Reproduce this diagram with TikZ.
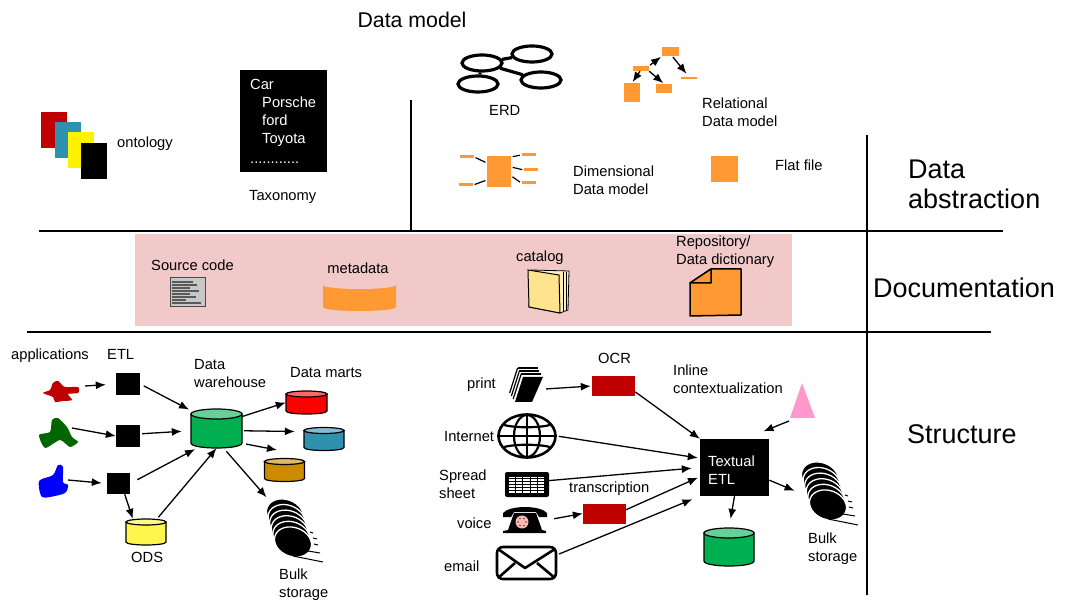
\documentclass[tikz,border=0pt]{standalone}
\usepackage{fontspec}
\setmainfont{Liberation Sans}
\usetikzlibrary{arrows.meta,calc,shapes.geometric}
\definecolor{orng}{HTML}{FF9933}
\definecolor{band}{HTML}{F1C9C9}
\definecolor{dred}{HTML}{C00000}
\definecolor{teal}{HTML}{2E92AE}
\definecolor{wgreen}{HTML}{00B050}
\definecolor{brwn}{HTML}{CC8A00}
\definecolor{pink}{HTML}{FF99CC}
\definecolor{page}{HTML}{FFE38F}
\tikzset{
  arr/.style={-{Latex[length=10pt,width=8pt]},line width=1.3pt},
  tie/.style={line width=1.2pt,shorten <=1.5pt,shorten >=1.5pt},
  rulel/.style={line width=1.5pt},
  lbl/.style={font=\fontsize{14.7}{18}\selectfont,align=left,anchor=west,inner sep=0pt},
  bigl/.style={font=\fontsize{27}{30}\selectfont,align=left,anchor=west,inner sep=0pt},
  etlbox/.style={fill=black,inner sep=0pt,minimum width=24pt,minimum height=22pt},
  redbox/.style={fill=dred,inner sep=0pt,minimum width=43pt,minimum height=20pt},
  orbox/.style={fill=orng,inner sep=0pt},
  card/.style={inner sep=0pt,minimum width=26pt,minimum height=36pt},
  erdn/.style={draw,ellipse,line width=3.2pt,inner sep=0pt,minimum width=40pt,minimum height=16pt},
  hold/.style={inner sep=0pt},
  pics/bulkdisc/.style={code={
    \foreach \i in {5,4,3,2,1,0}{
      \draw[fill=black,draw=white,line width=1.3pt,shift={(-1.6*\i,-5.6*\i)},rotate=-20] (0,0) ellipse (19 and 14.5);
    }
    \draw[line width=1pt] (17,-10)--(20,-9) (20,-4)--(24,-3) (21,2)--(25,3) (15,9)--(27,11) (0,14)--(30,20);
  }}
}
\newcommand{\dbcan}[9][draw=black,line width=1.2pt]{
  \node[hold,minimum width=#5pt,minimum height=#6pt] (#2) at (#3,#4) {};
  \draw[#1,fill=#8] ({#3-#5/2},{#4-#6/2+#7}) -- ({#3-#5/2},{#4+#6/2-#7}) .. controls ({#3-#5/2},{#4+#6/2+#7/3}) and ({#3+#5/2},{#4+#6/2+#7/3}) .. ({#3+#5/2},{#4+#6/2-#7}) -- ({#3+#5/2},{#4-#6/2+#7}) -- cycle;
  \draw[#1,fill=#9] (#3,{#4-#6/2+#7}) ellipse ({#5/2} and #7);
}
\begin{document}
\begin{tikzpicture}[x=1pt,y=-1pt]
\useasboundingbox (0,0) rectangle (1071,609);
\fill[band] (135,234) rectangle (792,326);
\draw[rulel] (39,231)--(1003,231);
\draw[rulel] (27,332)--(991,332);
\draw[rulel] (411,100)--(411,231);
\draw[rulel] (867,135)--(867,595);
\node[font=\fontsize{21.3}{24}\selectfont,inner sep=0pt] (mtitle) at (412,20) {Data model};
\node[bigl] (tabs) at (908,184) {Data\\[0pt]abstraction};
\node[bigl] (tdoc) at (873,288) {Documentation};
\node[bigl] (tstr) at (907,434) {Structure};
\node[card,fill=dred] (ont0) at (54,130) {};
\node[card,fill=teal] (ont1) at (67.5,140.5) {};
\node[card,fill=yellow] (ont2) at (80.5,150.5) {};
\node[card,fill=black] (ont3) at (93.5,161) {};
\node[lbl] (lont) at (117,144) {ontology};
\node[fill=black,text=white,anchor=north west,inner sep=0pt,minimum width=87pt,minimum height=102pt,text width=67pt,align=left,font=\fontsize{14.7}{18}\selectfont] (tax) at (240,70) {Car\\\hspace*{12pt}Porsche\\\hspace*{12pt}ford\\\hspace*{12pt}Toyota\\[1.5pt]............};
\node[lbl] (ltax) at (249,197) {Taxonomy};
\node[erdn] (erd0) at (482,63) {};
\node[erdn] (erd1) at (532,54) {};
\node[erdn] (erd2) at (541,80) {};
\node[erdn] (erd3) at (478,84) {};
\draw[line width=3.2pt] (erd0)--(erd1);
\draw[line width=3.2pt] (erd0)--(erd2);
\draw[line width=3.2pt] (erd0)--(erd3);
\node[lbl] (lerd) at (489,110) {ERD};
\node[orbox,minimum width=17pt,minimum height=9pt] (rel0) at (670.5,51.5) {};
\node[orbox,minimum width=16pt,minimum height=5pt] (rel1) at (641,68.5) {};
\node[orbox,minimum width=16pt,minimum height=19pt] (rel2) at (632,92.5) {};
\node[orbox,minimum width=16pt,minimum height=9pt] (rel3) at (664,88.5) {};
\node[orbox,minimum width=16pt,minimum height=2pt] (rel4) at (689,78) {};
\draw[arr,shorten <=1pt,shorten >=1pt] (rel1.north east)--(rel0.south west);
\draw[arr,shorten >=1pt] (rel1.-110)--(rel2.north);
\draw[arr,shorten >=1pt] (rel1.south east)--(rel3.north);
\draw[arr,shorten <=1pt,shorten >=4pt] (rel0.-70)--(rel4.north);
\node[lbl] (lrel) at (702,112) {Relational\\Data model};
\node[orbox,minimum width=24pt,minimum height=31pt] (dim0) at (499,171.5) {};
\node[orbox,minimum width=14pt,minimum height=3pt] (dim1) at (467,157) {};
\node[orbox,minimum width=14pt,minimum height=3pt] (dim2) at (466,185) {};
\node[orbox,minimum width=14pt,minimum height=3pt] (dim3) at (528.5,155) {};
\node[orbox,minimum width=14pt,minimum height=3pt] (dim4) at (531,170) {};
\node[orbox,minimum width=14pt,minimum height=3pt] (dim5) at (528.5,183) {};
\draw[tie] (dim1.east)--(dim0.145);
\draw[tie] (dim2.east)--(dim0.215);
\draw[tie] (dim0.50)--(dim3.west);
\draw[tie] (dim0.20)--(dim4.west);
\draw[tie] (dim0.-20)--(dim5.west);
\node[lbl] (ldim) at (573,180) {Dimensional\\Data model};
\node[orbox,minimum width=27pt,minimum height=26pt] (flat) at (724.5,169) {};
\node[lbl] (lflat) at (775,165) {Flat file};
\node[lbl] (lsrc) at (151,265) {Source code};
\node[draw=black!70,line width=1pt,fill=black!22,inner sep=0pt,minimum width=35pt,minimum height=29pt] (src) at (187.5,292.5) {};
\foreach \yy/\xx in {282/193,285/197,288/190,291/199,294/190,297/196,300/186,303/201}{
  \draw[black!65,line width=1.6pt] (172,\yy)--(\xx,\yy);
}
\node[font=\fontsize{14.7}{18}\selectfont,inner sep=0pt] (lmeta) at (358,268) {metadata};
\dbcan[draw=none]{meta}{359.5}{296}{73}{30}{4}{orng}{band}
\node[lbl] (lcat) at (516,258) {catalog};
\fill[page!60!white,draw=black,line width=0.8pt] (531,270)--(569,271)--(568,310)--(560,313)--(529,307)--cycle;
\draw[black,line width=0.6pt] (563,272)--(563,311) (566,272)--(566,310);
\fill[page,draw=black,line width=1pt] (528,270)--(559,275)--(560,313)--(529,307)--cycle;
\node[lbl] (lrepo) at (676,252) {Repository/\\Data dictionary};
\draw[fill=orng,line width=1.5pt,line join=round] (711,269)--(741,269)--(741,315)--(690,316)--(690,283)--cycle;
\draw[fill=orng,line width=1.5pt,line join=round] (690,283)--(711,283)--(711,269)--cycle;
\node[lbl] (lapp) at (11,356) {applications};
\node[lbl] (letl) at (107,354) {ETL};
\fill[dred] plot[smooth cycle] coordinates {(43,393)(50,390)(53,383)(58,381)(65,387)(78,387)(78,393)(68,394)(72,400)(63,401)(55,402)(53,397)};
\fill[black!60!green] plot[smooth cycle,tension=0.4] coordinates {(39,435)(50,432)(52,420)(58,418)(67,427)(72,437)(78,442)(70,447)(60,440)(45,448)};
\fill[blue] plot[smooth cycle,tension=0.5] coordinates {(40,480)(53,475)(58,465)(63,467)(63,482)(68,485)(65,493)(50,497)(42,497)(39,488)};
\coordinate (app0) at (85,386);
\coordinate (app1) at (72,428);
\coordinate (app2) at (68,480);
\node[etlbox] (etl0) at (128,384) {};
\node[etlbox] (etl1) at (128,436) {};
\node[etlbox,minimum width=23pt,minimum height=21pt] (etl2) at (118.5,483.5) {};
\dbcan{dw}{216.5}{428.5}{51}{39}{5}{wgreen}{wgreen!60!white}
\dbcan{ods}{146}{532}{40}{26}{3}{yellow!70!white}{yellow!45!white}
\dbcan{mart0}{306.5}{402.5}{41}{23}{3}{red}{red!60!white}
\dbcan{mart1}{324}{439}{40}{23}{3}{teal}{teal!60!white}
\dbcan{mart2}{284.5}{470}{40}{23}{3}{brwn}{brwn!60!white}
\coordinate (tipm2) at (277,450);
\node[hold,minimum width=40pt,minimum height=55pt] (bulk0) at (288,526.5) {};
\pic at (293,542) {bulkdisc};
\node[lbl] (lods) at (131,557) {ODS};
\node[lbl] (ldw) at (194,374) {Data\\warehouse};
\node[lbl] (lmart) at (290,373) {Data marts};
\node[lbl] (lbulk0) at (279,585) {Bulk\\storage};
\draw[arr,shorten >=10pt] (app0)--(etl0.west);
\draw[arr,shorten <=4pt,shorten >=2pt] (etl0.east)--(dw.145);
\draw[arr] (app1)--(etl1.west);
\draw[arr,shorten <=2pt,shorten >=9pt] (etl1.10)--(dw.185);
\draw[arr,shorten >=5pt] (app2)--(etl2.west);
\draw[arr,shorten <=8pt,shorten >=2pt] (etl2.east)--(dw.225);
\draw[arr] (etl2.-60)--(ods.135);
\draw[arr,shorten <=2pt] (ods.50)--(dw.south);
\draw[arr] (dw.25)--(mart0.west);
\draw[arr,shorten <=2pt,shorten >=9pt] (dw.-5)--(mart1.160);
\draw[arr,shorten <=4pt] (dw.-30)--(tipm2);
\draw[arr,shorten <=4pt,shorten >=2pt] (dw.-70)--(bulk0.north west);
\node[hold,minimum width=32pt,minimum height=30pt] (print) at (529,389) {};
\foreach \ss in {9,6,3}{
  \draw[black,line width=1.2pt] ($(523,377)+(-0.6*\ss,-\ss)$)--($(543,377)+(-0.6*\ss,-\ss)$);
  \draw[black,line width=1.2pt] ($(523,377)+(-0.6*\ss,-\ss)$)--($(515,402)+(-0.6*\ss,-\ss)$);
}
\fill[black] (523,377)--(543,377)--(532,402)--(515,402)--cycle;
\node[redbox] (ocr) at (613.5,386) {};
\node[draw,ellipse,line width=2.6pt,inner sep=0pt,minimum width=57pt,minimum height=43pt] (globe) at (527,436) {};
\draw[line width=2.2pt] (globe.north)--(globe.south);
\draw[line width=2.2pt] (globe.west)--(globe.east);
\draw[line width=2.2pt] (527,436) ellipse (13 and 21);
\draw[line width=2.2pt] (504,425) .. controls (515,428) and (539,428) .. (550,425);
\draw[line width=2.2pt] (504,447) .. controls (515,444) and (539,444) .. (550,447);
\node[fill=black,rounded corners=2pt,inner sep=0pt,minimum width=44pt,minimum height=25pt] (sheet) at (527,484.5) {};
\foreach \cc in {0,1,2,3,4}{
  \foreach \rr in {0,1,2,3,4,5}{
    \fill[white] ({509+7.2*\cc},{476.5+2.9*\rr}) rectangle ++(6.2,1.9);
  }
}
\node[hold,minimum width=44pt,minimum height=26pt] (phone) at (525,520) {};
\fill[black] (503,513) .. controls (510,505) and (540,505) .. (547,513) -- (547,517) -- (539,517) -- (536,512) -- (514,512) -- (511,517) -- (503,517) -- cycle;
\fill[black] (514,513) -- (536,513) -- (542,530) -- (546,531) -- (546,533) -- (503,533) -- (503,531) -- (508,530) -- cycle;
\fill[page!40!pink] (522,522) circle (6.5);
\foreach \aa in {0,60,...,300}{
  \fill[black!70] ($(522,522)+(\aa:4)$) circle (0.9);
}
\node[redbox] (trans) at (604.5,513.5) {};
\node[draw,fill=white,rounded corners=6pt,line width=2.6pt,inner sep=0pt,minimum width=59pt,minimum height=32pt] (email) at (526.5,563) {};
\draw[line width=2.6pt,line join=round] (498,549)--(525,568)--(555,549);
\draw[line width=2.6pt] (498,578)--(515,563);
\draw[line width=2.6pt] (555,578)--(537,563);
\node[fill=black,inner sep=0pt,minimum width=69pt,minimum height=57pt] (te) at (734.5,467.5) {};
\node[lbl,text=white] (lte) at (708,470) {Textual\\ETL};
\fill[pink] (802,383)--(790,418)--(815,418)--cycle;
\coordinate (tri) at (789,421);
\dbcan{cyl}{729}{547}{50}{38}{5}{wgreen}{wgreen!60!white}
\node[hold,minimum width=38pt,minimum height=50pt] (bulk1) at (823,498) {};
\pic at (828,505) {bulkdisc};
\node[lbl] (lprint) at (467,385) {print};
\node[lbl] (lint) at (444,437) {Internet};
\node[lbl] (lsheet) at (439,484) {Spread\\sheet};
\node[lbl] (lvoice) at (457,523) {voice};
\node[lbl] (lemail) at (444,566) {email};
\node[lbl] (locr) at (598,358) {OCR};
\node[lbl] (ltrans) at (569,489) {transcription};
\node[lbl] (linl) at (673,379) {Inline\\contextualization};
\node[lbl] (lbulk1) at (808,549) {Bulk\\storage};
\draw[arr,shorten <=1pt,shorten >=1pt] (print.east)--(ocr.west);
\draw[arr] (ocr.-15)--(te.north west);
\draw[arr,shorten <=2pt,shorten >=2pt] (globe.east)--(te.165);
\draw[arr,shorten >=8pt] (sheet.10)--(te.west);
\draw[arr,shorten <=7pt] (phone.east)--(trans.west);
\draw[arr,shorten >=2pt] (trans.10)--(te.-165);
\draw[arr,shorten <=2pt,shorten >=8pt] (email.15)--(te.south west);
\draw[arr,shorten >=20pt] (tri)--(te.70);
\draw[arr,shorten >=10pt] (te.-20)--(bulk1.170);
\draw[arr,shorten >=9pt] (te.south)--(cyl.north);
\end{tikzpicture}
\end{document}
